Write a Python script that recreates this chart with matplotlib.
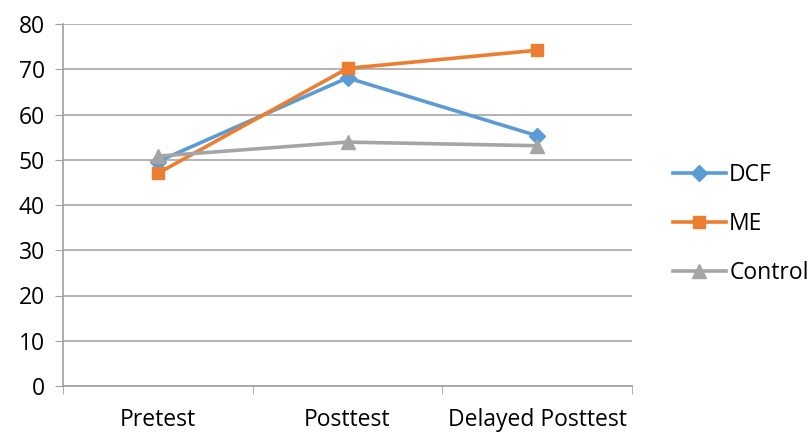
import matplotlib
matplotlib.use("Agg")
import matplotlib.pyplot as plt
import numpy as np

categories = ["Pretest", "Posttest", "Delayed Posttest"]
dcf = [49.6, 68.1, 55.3]
me = [47.0, 70.2, 74.2]
control = [50.8, 53.9, 53.1]

plt.rcParams['font.family'] = ['Open Sans', 'DejaVu Sans']

fig = plt.figure(figsize=(8.11, 4.32), dpi=100)
ax = fig.add_axes([63 / 811, 1 - 386 / 432, (632 - 63) / 811, (386 - 24) / 432])

x = np.arange(len(categories))
ax.plot(x, dcf, color="#5B9BD5", lw=2.6, marker="D", ms=8, label="DCF", zorder=3)
ax.plot(x, me, color="#ED7D31", lw=2.6, marker="s", ms=9, label="ME", zorder=3)
ax.plot(x, control, color="#A5A5A5", lw=2.6, marker="^", ms=10, label="Control", zorder=3)

ax.set_xlim(-0.5, 2.5)
ax.set_ylim(0, 80)
ax.set_yticks(range(0, 81, 10))
ax.set_xticks(x)
ax.set_xticklabels(categories)
ax.set_xticks([-0.5, 0.5, 1.5, 2.5], minor=True)
ax.tick_params(axis='x', which='major', length=0, pad=16, labelsize=16.5)
ax.tick_params(axis='x', which='minor', length=6, color="#A0A0A0")
ax.tick_params(axis='y', length=6, color="#A0A0A0", labelsize=16.5, pad=7)
ax.yaxis.grid(True, color="#A6A6A6", lw=1.2)
ax.set_axisbelow(True)
for s in ["top", "right"]:
    ax.spines[s].set_visible(False)
ax.spines["left"].set_color("#A0A0A0")
ax.spines["bottom"].set_color("#A0A0A0")
ax.spines["left"].set_linewidth(1.2)
ax.spines["bottom"].set_linewidth(1.2)

fig.legend(loc="center left", bbox_to_anchor=(673 / 811, 1 - 224 / 432), frameon=False,
           fontsize=16.5, labelspacing=1.1, handlelength=2.3, handletextpad=0.15,
           borderaxespad=0, borderpad=0)

fig.savefig("out.png", dpi=100)
